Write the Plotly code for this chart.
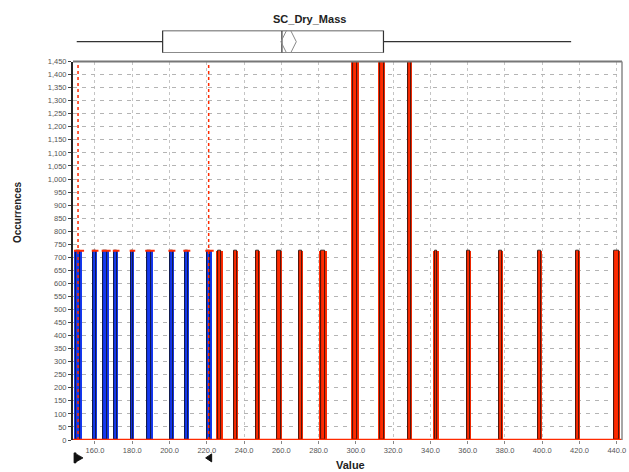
import plotly.graph_objects as go

# ---- data ----
blue_values = [150.9, 159.7, 165.5, 171.0, 179.8, 189.0, 200.9, 208.9, 221.0]
blue_counts = [725, 725, 725, 725, 725, 725, 725, 725, 725]
blue_bin_widths = [3.6, 2.4, 3.2, 2.4, 2.0, 3.4, 2.5, 2.5, 3.0]

red_values = [226.8, 235.5, 247.0, 258.7, 270.3, 282.3, 299.5, 314.0, 328.7,
              343.0, 360.5, 377.5, 398.4, 418.9, 439.9]
red_counts = [725, 725, 725, 725, 725, 725, 1450, 1450, 1450,
              725, 725, 725, 725, 725, 725]
red_bin_widths = [3.2, 2.3, 2.5, 3.2, 2.3, 3.6, 3.7, 3.4, 2.7,
                  2.5, 2.4, 2.5, 2.3, 2.5, 3.7]

selection_markers = [150.9, 221.0]

box_q1 = 196.3
box_median = 260.3
box_q3 = 314.8
box_low = 150.2
box_high = 415.5
box_mean = 263.9

x_ticks = list(range(160, 441, 20))
y_ticks = list(range(0, 1451, 50))

BLUE = "#1438f0"
RED = "#ff2a00"
X_RANGE = [148.2, 442.8]

fig = go.Figure()

# outer bars
fig.add_trace(go.Bar(x=blue_values, y=blue_counts, width=[w * 1.1 for w in blue_bin_widths],
                     marker=dict(color=BLUE, line=dict(width=0)), showlegend=False))
fig.add_trace(go.Bar(x=red_values, y=red_counts, width=[w * 1.1 for w in red_bin_widths],
                     marker=dict(color=RED, line=dict(width=0)), showlegend=False))
# inner outlined bars
fig.add_trace(go.Bar(x=blue_values, y=blue_counts, width=[w * 0.62 for w in blue_bin_widths],
                     marker=dict(color=BLUE, line=dict(color="#111", width=0.8)), showlegend=False))
fig.add_trace(go.Bar(x=red_values, y=red_counts, width=[w * 0.62 for w in red_bin_widths],
                     marker=dict(color=RED, line=dict(color="#111", width=0.8)), showlegend=False))

# red caps on top of the blue bars
cap_x, cap_y = [], []
for v, c, w in zip(blue_values, blue_counts, blue_bin_widths):
    cap_x += [v - w * 0.6, v + w * 0.9, None]
    cap_y += [c, c, None]
fig.add_trace(go.Scatter(x=cap_x, y=cap_y, mode="lines", line=dict(color=RED, width=2),
                         showlegend=False, hoverinfo="skip"))

# box plot on top (own x axis matching the main one, no grid)
fig.add_trace(go.Box(y=[0], q1=[box_q1], median=[box_median], q3=[box_q3],
                     lowerfence=[box_low], upperfence=[box_high],
                     orientation="h", width=1, whiskerwidth=0,
                     fillcolor="white", line=dict(color="#333", width=1.2),
                     xaxis="x2", yaxis="y2", showlegend=False, boxpoints=False))
fig.add_trace(go.Scatter(x=[box_mean], y=[0], mode="markers",
                         marker=dict(symbol="diamond-tall-open", size=22, color="#888",
                                     line=dict(width=1)),
                         xaxis="x2", yaxis="y2", showlegend=False))

# red dotted selection lines
for v in selection_markers:
    fig.add_shape(type="line", x0=v, x1=v, y0=0, y1=0.868, xref="x", yref="paper",
                  line=dict(color=RED, width=1.5, dash="dot"))

# selection handles below the axis (pixel-sized, anchored at the marker values)
fig.add_shape(type="path", xref="x", yref="paper", xsizemode="pixel", ysizemode="pixel",
              xanchor=selection_markers[0], yanchor=-0.041,
              path="M -4,5 L -2,5 L -2,4 L 5,0 L -2,-4 L -2,-5 L -4,-5 Z",
              fillcolor="#111", line=dict(color="#111", width=0.8))
fig.add_shape(type="path", xref="x", yref="paper", xsizemode="pixel", ysizemode="pixel",
              xanchor=selection_markers[1], yanchor=-0.041,
              path="M -3,0 L 3,4 L 3,-4 Z",
              fillcolor="#111", line=dict(color="#111", width=1))

# red baseline
fig.add_shape(type="line", x0=0, x1=1, y0=0, y1=0, xref="x domain", yref="y",
              line=dict(color=RED, width=2.5))
# top and right borders
fig.add_shape(type="line", x0=0, x1=1, y0=0.868, y1=0.868, xref="x domain", yref="paper",
              line=dict(color="#777", width=2))
fig.add_shape(type="line", x0=1, x1=1, y0=0, y1=0.868, xref="x domain", yref="paper",
              line=dict(color="#888", width=1.5))

fig.update_layout(
    width=629, height=472,
    margin=dict(l=73, r=7, t=0, b=32),
    paper_bgcolor="white", plot_bgcolor="white",
    barmode="overlay", bargap=0,
    font=dict(family="Liberation Sans, Arial, sans-serif", color="#555", size=8),
    xaxis=dict(range=X_RANGE, tickvals=x_ticks, tickformat=".1f",
               showgrid=True, gridcolor="#c4c4c4", griddash="dot", gridwidth=1,
               zeroline=False, showline=False, ticks="outside", ticklen=3,
               tickcolor="#888", tickfont=dict(size=7.5, color="#555")),
    yaxis=dict(domain=[0, 0.868], range=[0, 1450], tickvals=y_ticks, tickformat=",",
               showgrid=True, gridcolor="#b4b4b4", griddash="4px,5px", gridwidth=1,
               zeroline=False, showline=True, linecolor="#222", linewidth=2,
               ticks="outside", ticklen=3, tickcolor="#444",
               tickfont=dict(size=7.5, color="#555")),
    xaxis2=dict(range=X_RANGE, anchor="y2", showgrid=False, zeroline=False,
                showticklabels=False, ticks="", showline=False),
    yaxis2=dict(domain=[0.888, 0.939], range=[-0.5, 0.5], showgrid=False,
                zeroline=False, showticklabels=False, showline=False, anchor="x2"),
    annotations=[
        dict(text="<b>SC_Dry_Mass</b>", x=309, y=15, showarrow=False,
             font=dict(size=11, color="#222")),
        dict(text="<b>Value</b>", x=350, y=465, showarrow=False,
             font=dict(size=11, color="#222")),
        dict(text="<b>Occurrences</b>", x=17, y=210, showarrow=False, textangle=-90,
             font=dict(size=10, color="#222")),
    ],
)

# convert pixel-positioned annotations to paper coords (centered)
plot_l, plot_r = 73, 629 - 7
plot_t, plot_b = 0, 472 - 32
new_ann = []
for a in fig.layout.annotations:
    px, py = a.x, a.y
    a.x = (px - plot_l) / (plot_r - plot_l)
    a.y = (plot_b - py) / (plot_b - plot_t)
    a.xref = "paper"
    a.yref = "paper"
    a.xanchor = "center"
    a.yanchor = "middle"
    new_ann.append(a)
fig.layout.annotations = new_ann

fig.write_html("out.html", config={"displayModeBar": False},
               post_script="document.body.style.margin='0';document.body.style.padding='0';")
